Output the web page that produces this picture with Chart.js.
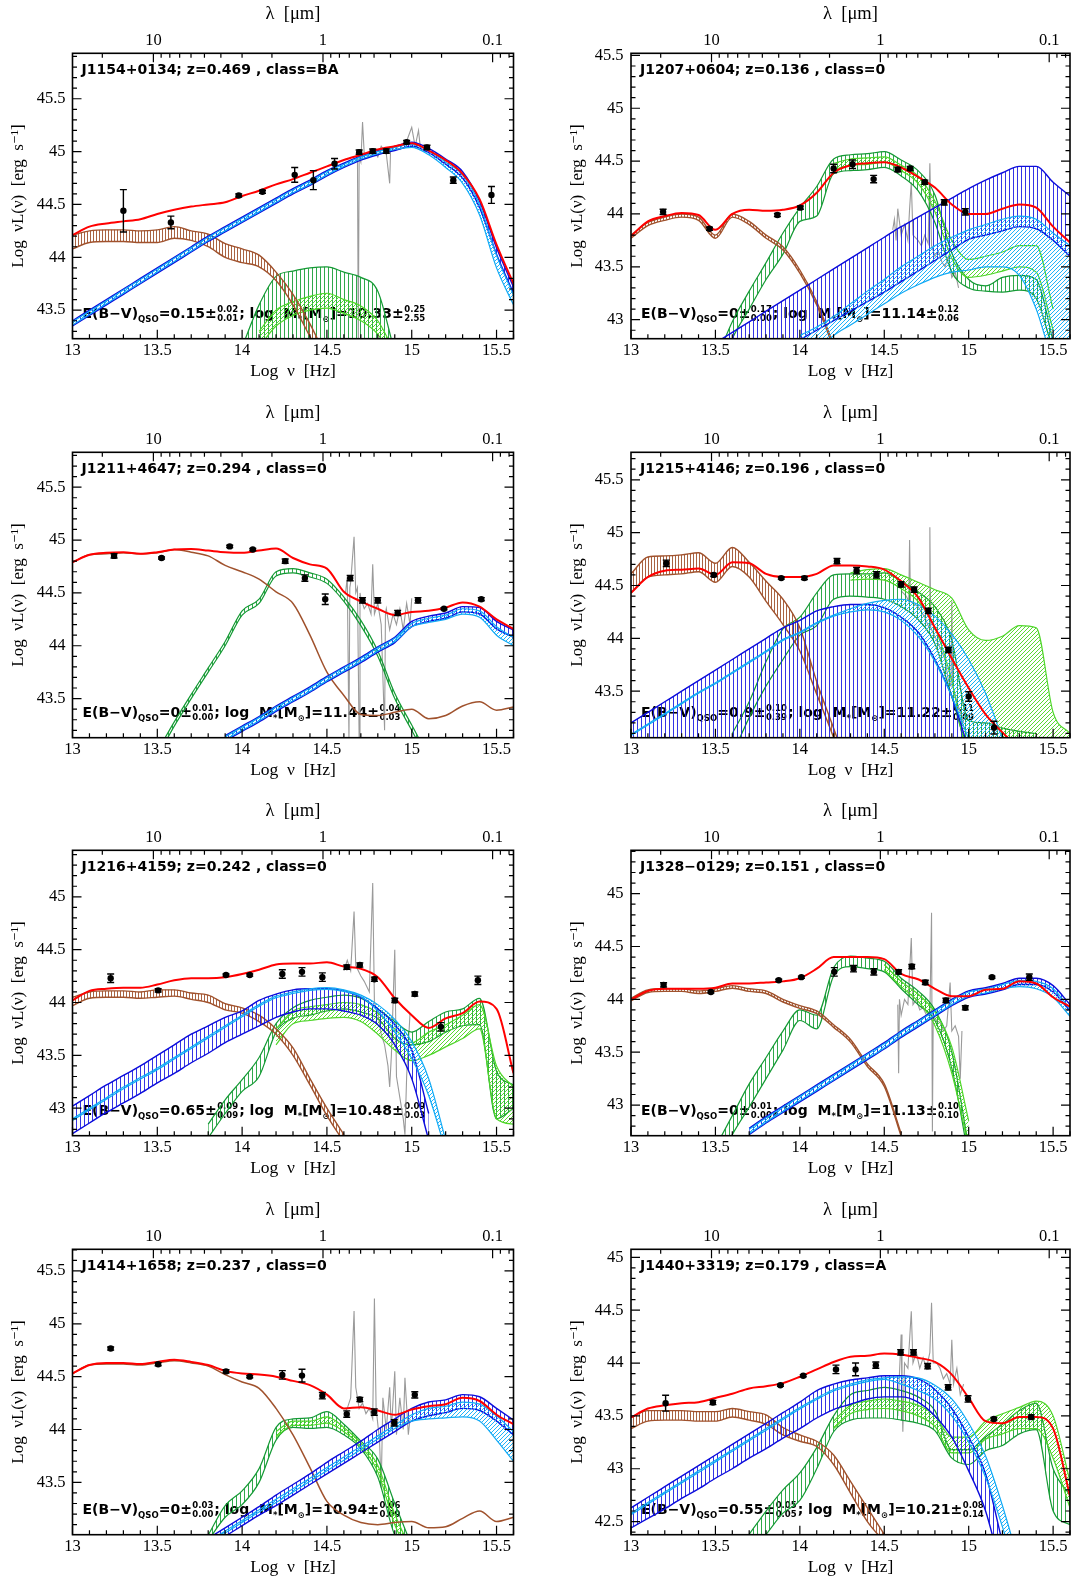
<!DOCTYPE html>
<html><head><meta charset="utf-8">
<script src="https://cdn.jsdelivr.net/npm/chart.js@4.4.1/dist/chart.umd.min.js"></script>
<style>
html,body{margin:0;padding:0;background:#fff;width:1074px;height:1578px;overflow:hidden;}
canvas{position:absolute;}
</style></head><body>
<script>
const _ = null;
// shared frequency grid (log nu [Hz]) for the model curves
const nu = [13.0,13.1,13.2,13.3,13.4,13.5,13.6,13.7,13.8,13.9,14.0,14.1,14.2,14.3,14.4,14.5,14.6,14.7,14.8,14.9,15.0,15.1,15.2,15.3,15.4,15.5,15.6];
const xTickVals = [13,13.5,14,14.5,15,15.5];
const xTickLabels = ['13','13.5','14','14.5','15','15.5'];
const lamTickVals = [10,1,0.1];
const lamTickLabels = ['10','1','0.1'];
const lamMinorVals = [30,20,9,8,7,6,5,4,3,2,0.9,0.8,0.7,0.6,0.5,0.4,0.3,0.2,0.09,0.08];
const C_UM = 2.998e14;

const objNames = ['J1154+0134; z=0.469 , class=BA','J1207+0604; z=0.136 , class=0','J1211+4647; z=0.294 , class=0','J1215+4146; z=0.196 , class=0','J1216+4159; z=0.242 , class=0','J1328\u22120129; z=0.151 , class=0','J1414+1658; z=0.237 , class=0','J1440+3319; z=0.179 , class=A'];
const ebvVal = ['0.15','0','0','0.9','0.65','0','0','0.55'];
const ebvUp  = ['0.02','0.17','0.01','0.10','0.09','0.01','0.03','0.05'];
const ebvDn  = ['0.01','0.00','0.00','0.39','0.09','0.00','0.00','0.05'];
const massVal = ['10.33','11.14','11.44','11.22','10.48','11.13','10.94','10.21'];
const massUp  = ['0.25','0.12','0.04','0.11','0.09','0.10','0.06','0.08'];
const massDn  = ['2.55','0.06','0.03','0.09','0.03','0.10','0.09','0.14'];

const yMin = [43.23,42.82,43.13,43.06,42.74,42.71,43.005,42.376];
const yMax = [45.93,45.52,45.83,45.76,45.44,45.41,45.705,45.076];
const yTicks1 = [43.5,44,44.5,45,45.5];
const yTicks2 = [43,43.5,44,44.5,45,45.5];
const yTicks3 = [43.5,44,44.5,45,45.5];
const yTicks4 = [43.5,44,44.5,45,45.5];
const yTicks5 = [43,43.5,44,44.5,45];
const yTicks6 = [43,43.5,44,44.5,45];
const yTicks7 = [43.5,44,44.5,45,45.5];
const yTicks8 = [42.5,43,43.5,44,44.5,45];

// ---------- Panel 1: J1154+0134 ----------
const p1Red   = [44.21,44.29,44.32,44.34,44.36,44.41,44.45,44.48,44.50,44.52, 44.58,44.63,44.69,44.74,44.80,44.86,44.92,44.97,45.02,45.05, 45.08,45.01,44.92,44.79,44.55,44.12,43.75];
const p1TorHi = [44.21,44.25,44.26,44.26,44.25,44.26,44.29,44.25,44.22,44.13, 44.08,44.02,43.86,43.65,43.37,43.05,42.80,_,_,_, _,_,_,_,_,_,_];
const p1TorLo = [44.08,44.14,44.15,44.15,44.14,44.14,44.18,44.16,44.10,44.00, 43.95,43.91,43.78,43.55,43.25,42.95,42.70,_,_,_, _,_,_,_,_,_,_];
const p1QsoHi = [43.40,43.50,43.60,43.70,43.80,43.90,44.00,44.10,44.20,44.29, 44.38,44.47,44.56,44.65,44.73,44.82,44.89,44.96,45.01,45.05, 45.09,45.03,44.93,44.81,44.53,44.09,43.72];
const p1QsoLo = [43.35,43.45,43.55,43.65,43.75,43.85,43.95,44.05,44.15,44.24, 44.33,44.42,44.51,44.60,44.68,44.77,44.85,44.92,44.97,45.01, 45.05,44.99,44.88,44.75,44.47,44.03,43.66];
const p1CyHi  = [43.39,43.49,43.59,43.69,43.79,43.89,43.99,44.09,44.19,44.28, 44.37,44.46,44.55,44.64,44.72,44.81,44.88,44.95,45.00,45.04, 45.07,45.01,44.90,44.78,44.50,44.02,43.64];
const p1CyLo  = [43.36,43.46,43.56,43.66,43.76,43.86,43.96,44.06,44.16,44.25, 44.34,44.43,44.52,44.61,44.69,44.78,44.86,44.93,44.98,45.02, 45.04,44.97,44.85,44.70,44.40,43.90,43.55];
const p1HostHi = [_,_,_,_,_,_,_,_,_,_, 43.15,43.55,43.82,43.87,43.90,43.91,43.86,43.81,43.68,43.10, _,_,_,_,_,_,_];
const p1HostLo = [_,_,_,_,_,_,_,_,_,_, 42.90,42.90,42.90,42.90,42.90,42.90,42.90,42.90,42.90,42.90, _,_,_,_,_,_,_];
const p1Host2Hi = [_,_,_,_,_,_,_,_,_,_, _,43.30,43.50,43.58,43.63,43.66,43.60,43.54,43.40,43.10, _,_,_,_,_,_,_];
const p1Host2Lo = [_,_,_,_,_,_,_,_,_,_, _,43.15,43.35,43.45,43.50,43.52,43.47,43.40,43.27,43.00, _,_,_,_,_,_,_];
const p1SpX = [14.68,14.685,14.69,14.70,14.71,14.72,14.75,14.78,14.80,14.82,14.85,14.87,14.875,14.90,14.93,14.95,14.97,15.00,15.02,15.04,15.05];
const p1SpY = [44.97,43.20,44.95,44.90,45.28,44.98,44.95,45.00,44.95,45.05,44.98,44.70,45.00,45.05,45.02,45.08,45.10,45.23,45.05,45.20,45.05];
const p1X = [13.30,13.58,13.98,14.12,14.31,14.42,14.545,14.69,14.77,14.85,14.97,15.09,15.245,15.47];
const p1Y = [44.44,44.33,44.585,44.62,44.78,44.73,44.885,44.995,45.005,45.005,45.09,45.04,44.73,44.59];
const p1E = [0.20,0.06,0.015,0.015,0.07,0.09,0.05,0.02,0.02,0.02,0.015,0.02,0.03,0.08];

// ---------- Panel 2: J1207+0604 ----------
const p2Red   = [43.79,43.93,43.98,44.01,43.99,43.85,44.00,44.04,44.03,44.04, 44.08,44.20,44.39,44.46,44.48,44.49,44.44,44.35,44.25,44.09, 44.00,44.00,44.05,44.09,44.06,43.88,43.73];
const p2TorHi = [43.80,43.92,43.97,44.00,43.97,43.80,44.00,43.93,43.80,43.69, 43.47,43.17,42.76,_,_,_,_,_,_,_, _,_,_,_,_,_,_];
const p2TorLo = [43.77,43.89,43.94,43.97,43.94,43.77,43.97,43.90,43.77,43.66, 43.44,43.14,42.73,_,_,_,_,_,_,_, _,_,_,_,_,_,_];
const p2QsoHi = [_,_,_,_,_,42.78,42.88,42.98,43.08,43.18, 43.28,43.38,43.48,43.58,43.68,43.78,43.88,43.97,44.06,44.15, 44.24,44.32,44.39,44.45,44.45,44.30,44.17];
const p2QsoLo = [_,_,_,_,_,42.35,42.45,42.55,42.64,42.72, 42.81,42.90,42.99,43.08,43.17,43.26,43.36,43.46,43.56,43.66, 43.76,43.80,43.84,43.88,43.86,43.75,43.60];
const p2CyHi  = [_,_,_,_,_,_,_,_,_,_, 42.85,42.93,43.03,43.15,43.27,43.38,43.50,43.60,43.70,43.78, 43.85,43.90,43.95,43.98,43.95,43.82,43.70];
const p2CyLo  = [_,_,_,_,_,_,_,_,_,_, 42.60,42.70,42.85,42.95,43.05,43.15,43.25,43.33,43.40,43.45, 43.47,43.50,43.50,43.42,43.10,42.60,42.30];
const p2HostHi = [_,_,_,_,_,42.60,42.98,43.27,43.54,43.82, 44.06,44.26,44.52,44.56,44.57,44.59,44.51,44.41,44.18,43.63, 43.38,43.32,43.40,43.42,43.38,42.80,_];
const p2HostLo = [_,_,_,_,_,42.40,42.82,43.10,43.38,43.62, 43.93,43.98,44.38,44.41,44.42,44.44,44.36,44.22,43.92,43.45, 43.30,43.27,43.26,43.28,43.20,42.70,_];
const p2Host2Hi = [_,_,_,_,_,_,_,_,_,_, _,_,44.48,44.52,44.53,44.54,44.46,44.36,44.12,43.75, 43.57,43.60,43.64,43.70,43.70,43.10,_];
const p2Host2Lo = [_,_,_,_,_,_,_,_,_,_, _,_,44.42,44.46,44.47,44.49,44.41,44.29,44.02,43.58, 43.40,43.42,43.46,43.50,43.45,42.90,_];
const p2SpX = [14.55,14.56,14.57,14.58,14.60,14.62,14.64,14.65,14.66,14.67,14.70,14.72,14.74,14.76,14.77,14.78,14.80,14.82,14.84,14.86,14.88,14.90,14.92,14.94];
const p2SpY = [43.85,43.95,43.75,44.05,43.80,43.90,43.75,44.05,44.30,43.80,43.75,43.70,43.80,43.72,44.48,43.70,43.60,43.65,43.55,43.50,43.60,43.40,43.45,43.30];
const p2X = [13.19,13.465,13.867,14.003,14.20,14.312,14.437,14.58,14.653,14.74,14.855,14.98];
const p2Y = [44.02,43.86,43.99,44.06,44.43,44.47,44.33,44.42,44.43,44.30,44.11,44.02];
const p2E = [0.025,0.015,0.015,0.015,0.04,0.04,0.035,0.02,0.02,0.02,0.025,0.03];

// ---------- Panel 3: J1211+4647 ----------
const p3Red   = [44.79,44.86,44.88,44.885,44.87,44.885,44.91,44.915,44.90,44.885, 44.88,44.90,44.92,44.83,44.77,44.73,44.51,44.42,44.35,44.29, 44.32,44.33,44.36,44.41,44.37,44.25,44.16];
const p3Tor   = [44.79,44.86,44.87,44.88,44.87,44.88,44.91,44.885,44.85,44.76, 44.70,44.63,44.51,44.40,44.10,43.75,43.53,43.35,43.34,43.37, 43.40,43.31,43.34,43.43,43.47,43.39,43.42];
const p3QsoHi = [_,_,_,_,_,_,_,_,_,43.15, 43.24,43.33,43.43,43.52,43.61,43.71,43.80,43.89,43.99,44.08, 44.23,44.28,44.31,44.37,44.36,44.23,44.15];
const p3QsoLo = [_,_,_,_,_,_,_,_,_,43.10, 43.19,43.28,43.38,43.47,43.56,43.66,43.75,43.84,43.94,44.03, 44.18,44.23,44.26,44.32,44.30,44.16,44.08];
const p3CyHi  = [_,_,_,_,_,_,_,_,_,43.14, 43.23,43.32,43.42,43.51,43.60,43.70,43.79,43.88,43.98,44.07, 44.21,44.26,44.29,44.35,44.33,44.18,44.08];
const p3CyLo  = [_,_,_,_,_,_,_,_,_,43.11, 43.20,43.29,43.39,43.48,43.57,43.67,43.76,43.85,43.95,44.04, 44.18,44.22,44.25,44.30,44.27,44.10,44.00];
const p3HostHi = [_,_,_,_,_,43.00,43.28,43.54,43.79,44.04, 44.33,44.44,44.70,44.73,44.69,44.63,44.46,44.24,43.95,43.55, 43.25,42.95,_,_,_,_,_];
const p3HostLo = [_,_,_,_,_,42.95,43.24,43.50,43.75,44.00, 44.29,44.40,44.66,44.69,44.65,44.59,44.42,44.19,43.90,43.50, 43.20,42.90,_,_,_,_,_];
const p3SpX = [14.61,14.62,14.63,14.635,14.64,14.66,14.67,14.68,14.69,14.695,14.70,14.72,14.74,14.76,14.77,14.78,14.80,14.82,14.84,14.845,14.85,14.87,14.89,14.91,14.93,14.95,14.97,14.99,15.00];
const p3SpY = [44.50,44.65,43.10,44.55,44.60,45.03,44.50,44.55,43.10,44.50,44.45,44.35,44.40,44.30,44.77,44.30,44.40,44.20,43.20,44.30,44.35,44.15,44.30,44.20,44.35,44.15,44.40,44.20,44.45];
const p3X = [13.245,13.525,13.927,14.063,14.254,14.37,14.49,14.637,14.71,14.80,14.917,15.037,15.19,15.41];
const p3Y = [44.85,44.83,44.94,44.91,44.80,44.64,44.44,44.64,44.43,44.43,44.31,44.43,44.35,44.44];
const p3E = [0.02,0.01,0.01,0.01,0.02,0.03,0.05,0.025,0.025,0.025,0.025,0.025,0.01,0.015];

// ---------- Panel 4: J1215+4146 ----------
const p4Red   = [44.43,44.58,44.64,44.65,44.66,44.60,44.72,44.71,44.61,44.58, 44.58,44.61,44.69,44.69,44.68,44.65,44.54,44.39,44.10,43.81, 43.53,43.28,43.11,42.95,_,_,_];
const p4TorHi = [44.61,44.77,44.78,44.79,44.81,44.71,44.86,44.72,44.54,44.37, 44.10,43.59,43.15,42.70,_,_,_,_,_,_, _,_,_,_,_,_,_];
const p4TorLo = [44.43,44.58,44.60,44.61,44.63,44.53,44.68,44.58,44.35,44.13, 43.88,43.47,43.06,42.60,_,_,_,_,_,_, _,_,_,_,_,_,_];
const p4QsoHi = [43.20,43.30,43.40,43.50,43.60,43.70,43.80,43.90,44.00,44.10, 44.17,44.26,44.30,44.32,44.32,44.29,44.20,44.06,43.80,43.45, 42.95,_,_,_,_,_,_];
const p4QsoLo = [42.90,42.90,42.90,42.90,42.90,42.90,42.90,42.90,42.90,42.90, 42.90,42.90,42.90,42.90,42.90,42.90,42.90,42.90,42.90,42.90, 42.90,_,_,_,_,_,_];
const p4CyHi  = [43.09,43.19,43.29,43.39,43.49,43.58,43.68,43.78,43.88,43.99, 44.06,44.15,44.22,44.28,44.33,44.36,44.37,44.32,44.21,44.04, 43.80,43.48,43.05,_,_,_,_];
const p4CyLo  = [43.08,43.18,43.28,43.38,43.48,43.57,43.67,43.77,43.87,43.98, 44.05,44.14,44.21,44.25,44.27,44.25,44.17,44.02,43.78,43.45, 43.05,42.70,42.50,_,_,_,_];
const p4HostHi = [_,_,_,_,_,_,43.10,43.40,43.78,44.09, 44.20,44.43,44.60,44.61,44.61,44.62,44.54,44.44,44.30,43.98, 43.22,43.20,43.15,43.12,43.10,_,_];
const p4HostLo = [_,_,_,_,_,_,42.90,43.25,43.55,43.80, 44.03,44.12,44.37,44.40,44.39,44.37,44.30,44.18,43.95,43.45, 43.00,43.00,43.00,43.00,43.00,_,_];
const p4Host2Hi = [_,_,_,_,_,_,_,_,_,_, _,_,_,44.62,44.65,44.66,44.60,44.53,44.46,44.38, 44.08,43.98,44.02,44.12,44.10,43.30,43.10];
const p4Host2Lo = [_,_,_,_,_,_,_,_,_,_, _,_,_,44.55,44.56,44.55,44.47,44.35,44.10,43.60, 42.90,42.90,42.90,42.90,42.90,42.90,42.90];
const p4SpX = [14.60,14.63,14.645,14.65,14.655,14.70,14.74,14.765,14.77,14.775,14.82,14.86,14.88,14.895,14.90,14.905,14.93,14.95,14.97];
const p4SpY = [44.45,44.40,44.35,44.93,44.35,44.30,44.20,44.10,45.05,44.10,43.95,43.80,43.60,43.55,44.35,43.55,43.40,43.30,43.20];
const p4X = [13.209,13.49,13.89,14.027,14.22,14.336,14.454,14.60,14.677,14.761,14.88,15.0,15.15];
const p4Y = [44.71,44.60,44.57,44.57,44.73,44.64,44.60,44.51,44.46,44.26,43.89,43.45,43.155];
const p4E = [0.03,0.015,0.01,0.015,0.025,0.03,0.03,0.025,0.025,0.025,0.025,0.045,0.06];

// ---------- Panel 5: J1216+4159 ----------
const p5Red   = [44.02,44.11,44.13,44.14,44.14,44.17,44.21,44.23,44.23,44.24, 44.27,44.31,44.36,44.37,44.37,44.38,44.34,44.32,44.24,44.04, 43.88,43.76,43.85,43.90,44.01,43.94,43.33];
const p5TorHi = [44.05,44.10,44.11,44.11,44.10,44.12,44.12,44.09,44.07,43.99, 43.95,43.88,43.75,43.57,43.28,43.00,42.75,_,_,_, _,_,_,_,_,_,_];
const p5TorLo = [43.97,44.04,44.05,44.05,44.04,44.05,44.06,44.03,44.00,43.93, 43.90,43.82,43.70,43.50,43.22,42.93,42.68,_,_,_, _,_,_,_,_,_,_];
const p5QsoHi = [43.02,43.12,43.22,43.31,43.40,43.50,43.60,43.70,43.78,43.86, 43.92,44.02,44.08,44.12,44.13,44.13,44.11,44.05,43.94,43.79, 43.55,42.95,_,_,_,_,_];
const p5QsoLo = [42.76,42.86,42.96,43.05,43.14,43.24,43.33,43.43,43.52,43.62, 43.70,43.78,43.86,43.91,43.94,43.94,43.92,43.88,43.79,43.60, 43.28,42.70,_,_,_,_,_];
const p5CyHi  = [42.90,43.00,43.10,43.20,43.29,43.38,43.48,43.58,43.68,43.78, 43.88,43.98,44.06,44.10,44.13,44.14,44.12,44.07,43.98,43.84, 43.63,43.28,42.70,_,_,_,_];
const p5CyLo  = [42.885,42.985,43.085,43.185,43.275,43.365,43.465,43.565,43.665,43.765, 43.865,43.965,44.045,44.085,44.115,44.125,44.105,44.055,43.92,43.72, 43.47,43.12,42.60,_,_,_,_];
const p5HostHi = [_,_,_,_,_,_,_,_,42.85,43.08, 43.27,43.48,43.80,43.95,44.02,44.05,44.07,44.04,43.94,43.82, 43.72,43.82,43.91,43.94,44.04,43.35,43.22];
const p5HostLo = [_,_,_,_,_,_,_,_,42.72,42.95, 43.16,43.30,43.72,43.85,43.88,43.92,43.94,43.91,43.85,43.66, 43.60,43.63,43.72,43.78,43.79,42.90,43.00];
const p5Host2Hi = [_,_,_,_,_,_,_,_,_,_, _,_,43.75,43.92,43.96,43.98,44.00,43.98,43.90,43.75, 43.62,43.72,43.79,43.88,43.98,43.40,43.20];
const p5Host2Lo = [_,_,_,_,_,_,_,_,_,_, _,_,43.60,43.80,43.83,43.85,43.86,43.82,43.70,43.55, 43.45,43.50,43.58,43.66,43.75,42.90,42.85];
const p5SpX = [14.60,14.62,14.64,14.66,14.67,14.70,14.72,14.75,14.77,14.78,14.80,14.82,14.84,14.86,14.87,14.88,14.90,14.91,14.93,14.95,14.96,14.97,14.98,14.99];
const p5SpY = [44.30,44.40,44.30,44.86,44.35,44.25,44.20,44.10,45.13,44.00,43.90,43.70,43.60,43.40,43.20,43.50,44.50,43.30,43.10,42.90,42.75,43.30,43.60,43.90];
const p5X = [13.225,13.505,13.905,14.045,14.237,14.353,14.473,14.617,14.694,14.78,14.90,15.018,15.172,15.39];
const p5Y = [44.23,44.115,44.26,44.26,44.27,44.29,44.24,44.335,44.355,44.22,44.02,44.08,43.77,44.21];
const p5E = [0.04,0.015,0.01,0.01,0.04,0.04,0.04,0.02,0.02,0.02,0.02,0.02,0.04,0.04];

// ---------- Panel 6: J1328-0129 ----------
const p6Red   = [44.00,44.08,44.10,44.10,44.10,44.11,44.15,44.15,44.16,44.17, 44.20,44.29,44.40,44.40,44.40,44.38,44.24,44.19,44.10,44.03, 44.03,44.09,44.10,44.17,44.15,44.02,43.93];
const p6TorHi = [44.01,44.09,44.10,44.10,44.08,44.10,44.13,44.10,44.08,44.00, 43.94,43.89,43.76,43.62,43.39,43.20,42.73,_,_,_, _,_,_,_,_,_,_];
const p6TorLo = [43.985,44.065,44.075,44.075,44.055,44.075,44.105,44.075,44.055,43.975, 43.915,43.865,43.735,43.595,43.365,43.175,42.705,_,_,_, _,_,_,_,_,_,_];
const p6QsoHi = [_,_,_,_,_,_,_,42.78,42.89,42.99, 43.09,43.19,43.29,43.39,43.49,43.59,43.70,43.80,43.90,44.00, 44.08,44.11,44.15,44.20,44.20,44.13,43.95];
const p6QsoLo = [_,_,_,_,_,_,_,42.72,42.83,42.93, 43.03,43.13,43.23,43.33,43.43,43.53,43.64,43.74,43.84,43.94, 44.02,44.05,44.09,44.14,44.14,44.07,43.89];
const p6CyHi  = [_,_,_,_,_,_,_,42.77,42.88,42.98, 43.08,43.18,43.28,43.38,43.48,43.58,43.69,43.79,43.89,43.99, 44.07,44.10,44.14,44.18,44.17,44.10,43.91];
const p6CyLo  = [_,_,_,_,_,_,_,42.73,42.84,42.94, 43.04,43.14,43.24,43.34,43.44,43.54,43.65,43.75,43.85,43.95, 44.03,44.06,44.10,44.12,44.10,44.02,43.84];
const p6HostHi = [_,_,_,_,_,42.60,42.90,43.20,43.45,43.70, 43.90,43.85,44.30,44.41,44.39,44.36,44.20,44.08,43.90,43.50, 42.60,_,_,_,_,_,_];
const p6HostLo = [_,_,_,_,_,42.40,42.72,42.98,43.25,43.52, 43.80,43.72,44.22,44.31,44.29,44.26,44.10,43.95,43.80,43.35, 42.50,_,_,_,_,_,_];
const p6Host2Hi = [_,_,_,_,_,_,_,_,_,_, _,_,_,_,_,44.33,44.17,44.05,43.88,43.55, 42.85,_,_,_,_,_,_];
const p6Host2Lo = [_,_,_,_,_,_,_,_,_,_, _,_,_,_,_,44.28,44.12,43.98,43.75,43.30, 42.60,_,_,_,_,_,_];
const p6SpX = [14.58,14.585,14.59,14.60,14.62,14.64,14.66,14.67,14.69,14.71,14.73,14.75,14.77,14.78,14.785,14.79,14.81,14.83,14.85,14.87,14.89,14.90,14.92,14.94,14.95,14.96];
const p6SpY = [43.95,43.30,44.00,43.85,44.00,43.95,44.58,43.95,44.00,43.90,43.92,43.85,43.85,44.82,42.75,43.85,43.80,43.78,43.70,43.75,44.16,43.70,43.75,43.65,43.25,43.70];
const p6X = [13.193,13.473,13.875,14.009,14.204,14.318,14.438,14.585,14.663,14.743,14.865,14.98,15.138,15.359];
const p6Y = [44.137,44.07,44.18,44.21,44.26,44.29,44.26,44.26,44.31,44.16,43.99,43.92,44.21,44.21];
const p6E = [0.02,0.01,0.01,0.01,0.04,0.03,0.03,0.02,0.02,0.02,0.02,0.02,0.01,0.03];

// ---------- Panel 7: J1414+1658 ----------
const p7Red   = [44.53,44.61,44.63,44.63,44.62,44.64,44.66,44.64,44.61,44.555, 44.53,44.52,44.50,44.46,44.42,44.33,44.20,44.21,44.18,44.14, 44.19,44.22,44.24,44.30,44.27,44.14,44.05];
const p7Tor   = [44.53,44.61,44.62,44.62,44.61,44.63,44.65,44.63,44.60,44.52, 44.45,44.39,44.20,43.95,43.64,43.32,43.19,43.12,43.10,43.12, 43.13,43.07,43.08,43.16,43.23,43.13,43.17];
const p7QsoHi = [_,_,_,_,_,_,_,_,42.97,43.07, 43.17,43.27,43.38,43.48,43.58,43.69,43.79,43.89,44.00,44.10, 44.20,44.26,44.28,44.33,44.31,44.20,44.09];
const p7QsoLo = [_,_,_,_,_,_,_,_,42.89,42.99, 43.09,43.19,43.28,43.38,43.48,43.58,43.68,43.78,43.88,43.98, 44.08,44.13,44.16,44.20,44.18,44.08,43.95];
const p7CyHi  = [_,_,_,_,_,_,_,_,42.94,43.04, 43.14,43.24,43.34,43.44,43.54,43.64,43.74,43.84,43.94,44.04, 44.14,44.20,44.22,44.26,44.24,44.13,43.98];
const p7CyLo  = [_,_,_,_,_,_,_,_,42.92,43.02, 43.12,43.22,43.31,43.41,43.51,43.61,43.71,43.81,43.91,44.01, 44.08,44.10,44.11,44.12,44.08,43.90,43.70];
const p7HostHi = [_,_,_,_,_,_,_,_,43.00,43.28, 43.42,43.63,44.02,44.10,44.11,44.17,44.05,43.89,43.72,43.30, 42.90,_,_,_,_,_,_];
const p7HostLo = [_,_,_,_,_,_,_,_,42.95,43.17, 43.29,43.50,43.90,44.02,44.01,44.02,43.95,43.82,43.55,43.00, 42.80,_,_,_,_,_,_];
const p7Host2Hi = [_,_,_,_,_,_,_,_,_,_, _,_,43.98,44.08,44.08,44.12,44.02,43.87,43.66,43.20, 42.85,_,_,_,_,_,_];
const p7Host2Lo = [_,_,_,_,_,_,_,_,_,_, _,_,43.93,44.04,44.04,44.06,43.98,43.84,43.60,43.10, 42.80,_,_,_,_,_,_];
const p7SpX = [14.60,14.62,14.64,14.66,14.67,14.69,14.71,14.73,14.75,14.77,14.78,14.79,14.81,14.82,14.83,14.85,14.87,14.88,14.90,14.91,14.93,14.95,14.96,14.98,14.99];
const p7SpY = [44.15,44.20,44.30,45.12,44.40,44.20,44.25,44.15,44.20,44.10,45.24,44.20,43.90,43.45,44.30,44.00,44.40,44.00,44.55,43.95,44.30,44.00,44.49,43.95,44.10];
const p7X = [13.225,13.505,13.905,14.045,14.237,14.353,14.473,14.617,14.694,14.779,14.897,15.018];
const p7Y = [44.766,44.618,44.55,44.50,44.517,44.51,44.32,44.146,44.284,44.165,44.064,44.328];
const p7E = [0.015,0.015,0.015,0.01,0.04,0.06,0.03,0.03,0.02,0.03,0.03,0.03];

// ---------- Panel 8: J1440+3319 ----------
const p8Red   = [43.485,43.57,43.60,43.62,43.63,43.67,43.71,43.76,43.78,43.81, 43.87,43.94,44.01,44.06,44.07,44.09,44.08,44.05,44.01,43.89, 43.67,43.45,43.43,43.49,43.49,43.38,42.74];
const p8TorHi = [43.485,43.55,43.55,43.55,43.54,43.54,43.57,43.54,43.51,43.39, 43.32,43.26,43.13,42.88,42.63,42.38,_,_,_,_, _,_,_,_,_,_,_];
const p8TorLo = [43.38,43.45,43.46,43.46,43.45,43.45,43.49,43.46,43.42,43.32, 43.26,43.21,43.04,42.77,42.50,42.31,_,_,_,_, _,_,_,_,_,_,_];
const p8QsoHi = [42.63,42.73,42.83,42.93,43.03,43.13,43.23,43.33,43.43,43.53, 43.63,43.74,43.80,43.84,43.86,43.88,43.88,43.85,43.75,43.57, 43.30,42.95,42.30,_,_,_,_];
const p8QsoLo = [42.44,42.53,42.62,42.72,42.81,42.91,43.00,43.10,43.19,43.29, 43.38,43.48,43.56,43.61,43.66,43.68,43.68,43.63,43.50,43.30, 42.98,42.60,42.00,_,_,_,_];
const p8CyHi  = [42.58,42.68,42.78,42.88,42.98,43.08,43.18,43.28,43.38,43.48, 43.58,43.67,43.75,43.80,43.84,43.86,43.87,43.86,43.79,43.66, 43.43,43.12,42.65,42.10,_,_,_];
const p8CyLo  = [42.565,42.665,42.765,42.865,42.965,43.065,43.165,43.265,43.365,43.465, 43.565,43.655,43.735,43.785,43.825,43.845,43.80,43.74,43.66,43.50, 43.25,42.92,42.45,41.90,_,_,_];
const p8HostHi = [_,_,_,_,_,_,_,42.38,42.60,42.80, 42.96,43.20,43.50,43.70,43.74,43.77,43.74,43.68,43.55,43.18, 43.18,43.30,43.42,43.55,43.62,43.00,42.75];
const p8HostLo = [_,_,_,_,_,_,_,42.20,42.38,42.58, 42.70,43.00,43.35,43.46,43.48,43.48,43.46,43.43,43.36,43.10, 43.04,43.17,43.22,43.33,43.37,42.60,42.47];
const p8Host2Hi = [_,_,_,_,_,_,_,_,_,_, _,_,43.45,43.60,43.64,43.66,43.64,43.60,43.50,43.30, 43.30,43.45,43.52,43.58,43.64,43.50,42.88];
const p8Host2Lo = [_,_,_,_,_,_,_,_,_,_, _,_,43.38,43.52,43.56,43.57,43.55,43.50,43.40,43.15, 43.15,43.28,43.33,43.38,43.38,43.10,42.63];
const p8SpX = [14.58,14.59,14.60,14.605,14.61,14.62,14.64,14.66,14.67,14.69,14.71,14.73,14.75,14.77,14.78,14.79,14.81,14.83,14.85,14.87,14.89,14.90,14.91,14.93,14.95,14.97];
const p8SpY = [43.50,43.90,44.27,43.70,43.35,44.00,43.95,44.49,44.00,44.10,43.95,44.05,43.95,44.10,44.57,44.00,44.00,43.95,43.85,43.90,43.80,44.22,43.80,43.95,43.70,43.80];
const p8X = [13.205,13.485,13.885,14.02,14.214,14.33,14.45,14.597,14.673,14.757,14.878,14.996,15.149,15.37];
const p8Y = [43.62,43.627,43.79,43.88,43.94,43.94,43.98,44.10,44.10,43.97,43.77,43.66,43.47,43.49];
const p8E = [0.075,0.02,0.01,0.01,0.04,0.06,0.03,0.025,0.025,0.025,0.025,0.03,0.015,0.02];

// ---------- panel table built from the arrays ----------
const PANELS = [
  {red:p1Red, torHi:p1TorHi, torLo:p1TorLo, qHi:p1QsoHi, qLo:p1QsoLo, cHi:p1CyHi, cLo:p1CyLo, hHi:p1HostHi, hLo:p1HostLo, h2Hi:p1Host2Hi, h2Lo:p1Host2Lo, spX:p1SpX, spY:p1SpY, px:p1X, py:p1Y, pe:p1E, yt:yTicks1},
  {red:p2Red, torHi:p2TorHi, torLo:p2TorLo, qHi:p2QsoHi, qLo:p2QsoLo, cHi:p2CyHi, cLo:p2CyLo, hHi:p2HostHi, hLo:p2HostLo, h2Hi:p2Host2Hi, h2Lo:p2Host2Lo, spX:p2SpX, spY:p2SpY, px:p2X, py:p2Y, pe:p2E, yt:yTicks2},
  {red:p3Red, torHi:p3Tor, torLo:null, qHi:p3QsoHi, qLo:p3QsoLo, cHi:p3CyHi, cLo:p3CyLo, hHi:p3HostHi, hLo:p3HostLo, h2Hi:null, h2Lo:null, spX:p3SpX, spY:p3SpY, px:p3X, py:p3Y, pe:p3E, yt:yTicks3},
  {red:p4Red, torHi:p4TorHi, torLo:p4TorLo, qHi:p4QsoHi, qLo:p4QsoLo, cHi:p4CyHi, cLo:p4CyLo, hHi:p4HostHi, hLo:p4HostLo, h2Hi:p4Host2Hi, h2Lo:p4Host2Lo, spX:p4SpX, spY:p4SpY, px:p4X, py:p4Y, pe:p4E, yt:yTicks4},
  {red:p5Red, torHi:p5TorHi, torLo:p5TorLo, qHi:p5QsoHi, qLo:p5QsoLo, cHi:p5CyHi, cLo:p5CyLo, hHi:p5HostHi, hLo:p5HostLo, h2Hi:p5Host2Hi, h2Lo:p5Host2Lo, spX:p5SpX, spY:p5SpY, px:p5X, py:p5Y, pe:p5E, yt:yTicks5},
  {red:p6Red, torHi:p6TorHi, torLo:p6TorLo, qHi:p6QsoHi, qLo:p6QsoLo, cHi:p6CyHi, cLo:p6CyLo, hHi:p6HostHi, hLo:p6HostLo, h2Hi:p6Host2Hi, h2Lo:p6Host2Lo, spX:p6SpX, spY:p6SpY, px:p6X, py:p6Y, pe:p6E, yt:yTicks6},
  {red:p7Red, torHi:p7Tor, torLo:null, qHi:p7QsoHi, qLo:p7QsoLo, cHi:p7CyHi, cLo:p7CyLo, hHi:p7HostHi, hLo:p7HostLo, h2Hi:p7Host2Hi, h2Lo:p7Host2Lo, spX:p7SpX, spY:p7SpY, px:p7X, py:p7Y, pe:p7E, yt:yTicks7},
  {red:p8Red, torHi:p8TorHi, torLo:p8TorLo, qHi:p8QsoHi, qLo:p8QsoLo, cHi:p8CyHi, cLo:p8CyLo, hHi:p8HostHi, hLo:p8HostLo, h2Hi:p8Host2Hi, h2Lo:p8Host2Lo, spX:p8SpX, spY:p8SpY, px:p8X, py:p8Y, pe:p8E, yt:yTicks8}
];

// ---------- layout ----------
const W = 537, H = 382, CH_TOP = 53.3, CH_BOTTOM = 338.7;
const COLS = [
  {left:0,   chartLeft:72.5, chartRight:513.5, ytPad:7, titlePad:8.8},
  {left:537, chartLeft:94,   chartRight:534,   ytPad:7.5, titlePad:30.3}
];
const ROW_TOPS = [0, 398.5, 797, 1195.7];
const SERIF = '"Liberation Serif", "DejaVu Serif", serif';
const SANS = '"DejaVu Sans", sans-serif';
const TICK_FONT = {family:SERIF, size:16.5};

Chart.defaults.font.family = SERIF;
Chart.defaults.color = '#000';

function hatchV(color, gap) {
  const c = document.createElement('canvas'); c.width = gap; c.height = 4;
  const g = c.getContext('2d'); g.fillStyle = color; g.fillRect(0, 0, 1, 4);
  return g.createPattern(c, 'repeat');
}
function hatchD(color, gap) {
  const c = document.createElement('canvas'); c.width = gap; c.height = gap;
  const g = c.getContext('2d'); g.fillStyle = color;
  for (let i = 0; i < gap; i++) g.fillRect(i, gap - 1 - i, 1, 1);
  return g.createPattern(c, 'repeat');
}
const PAT_BROWN = hatchV('rgba(160,82,45,0.9)', 3);
const PAT_BLUE = hatchV('rgba(30,30,225,0.9)', 4);
const PAT_CYAN = hatchD('rgba(20,175,250,0.95)', 4);
const PAT_DKGREEN = hatchV('rgba(25,160,55,0.9)', 4);
const PAT_LTGREEN = hatchD('rgba(80,215,40,0.95)', 4);

function xy(arr) { return arr.map((v, i) => ({x: nu[i], y: v})); }
function lineDs(data, color, width, order, extra) {
  return Object.assign({type:'line', data, borderColor:color, borderWidth:width, pointRadius:0,
    fill:false, order, xAxisID:'x', yAxisID:'y', cubicInterpolationMode:'monotone', spanGaps:false}, extra || {});
}
function addBand(ds, hi, lo, color, pat, order, width) {
  ds.push(lineDs(xy(lo), color, width, order));
  ds.push(lineDs(xy(hi), color, width, order, {fill:'-1', backgroundColor:pat}));
}

function framePlugin() {
  return { id:'frameTicks', afterDraw(chart) {
    const {ctx, chartArea: ca} = chart; const xs = chart.scales.x, ys = chart.scales.y;
    ctx.save(); ctx.strokeStyle = '#000'; ctx.lineWidth = 1.2; ctx.beginPath();
    for (let k = 130; k <= 156; k++) {
      const px = xs.getPixelForValue(k / 10); const L = (k % 5 === 0) ? 9 : 4.5;
      ctx.moveTo(px, ca.bottom); ctx.lineTo(px, ca.bottom - L);
    }
    const addTop = (lam, L) => {
      const v = Math.log10(C_UM / lam); if (v < xs.min - 1e-6 || v > xs.max) return;
      const px = xs.getPixelForValue(v); ctx.moveTo(px, ca.top); ctx.lineTo(px, ca.top + L);
    };
    lamTickVals.forEach(l => addTop(l, 9)); lamMinorVals.forEach(l => addTop(l, 4.5));
    const k0 = Math.ceil(ys.min * 10 - 1e-6), k1 = Math.floor(ys.max * 10 + 1e-6);
    for (let k = k0; k <= k1; k++) {
      const py = ys.getPixelForValue(k / 10); const L = (k % 5 === 0) ? 9 : 4.5;
      ctx.moveTo(ca.left, py); ctx.lineTo(ca.left + L, py);
      ctx.moveTo(ca.right, py); ctx.lineTo(ca.right - L, py);
    }
    ctx.stroke();
    ctx.lineWidth = 1.6; ctx.strokeRect(ca.left, ca.top, ca.right - ca.left, ca.bottom - ca.top);
    ctx.restore();
  }};
}
function errPlugin(xs, ys, es) {
  return { id:'errbars', afterDatasetsDraw(chart) {
    const {ctx} = chart; const sx = chart.scales.x, sy = chart.scales.y;
    ctx.save(); ctx.strokeStyle = '#000'; ctx.lineWidth = 1.4; ctx.beginPath();
    xs.forEach((xv, i) => {
      const px = sx.getPixelForValue(xv);
      const y1 = sy.getPixelForValue(ys[i] - es[i]), y2 = sy.getPixelForValue(ys[i] + es[i]);
      ctx.moveTo(px, y1); ctx.lineTo(px, y2);
      ctx.moveTo(px - 3.5, y1); ctx.lineTo(px + 3.5, y1);
      ctx.moveTo(px - 3.5, y2); ctx.lineTo(px + 3.5, y2);
    });
    ctx.stroke(); ctx.restore();
  }};
}
function textPlugin(k) {
  return { id:'sedText', beforeDatasetsDraw(chart) {
    const ctx = chart.ctx, ca = chart.chartArea;
    const big = 'bold 14px ' + SANS, small = 'bold 8.5px ' + SANS;
    ctx.save(); ctx.fillStyle = '#000'; ctx.textAlign = 'left'; ctx.textBaseline = 'alphabetic';
    ctx.font = big; ctx.fillText(objNames[k], ca.left + 9, ca.top + 20.5);
    let x = ca.left + 10; const y = ca.bottom - 21;
    const put = (t, f, dy) => { ctx.font = f; ctx.fillText(t, x, y + dy); x += ctx.measureText(t).width; };
    const pm = (a, b) => { ctx.font = small; const w = Math.max(ctx.measureText(a).width, ctx.measureText(b).width);
      ctx.fillText(a, x + 0.5, y - 6); ctx.fillText(b, x + 0.5, y + 3); x += w + 1.5; };
    put('E(B\u2212V)', big, 0); put('QSO', small, 4); put('=' + ebvVal[k] + '\u00b1', big, 0); pm(ebvUp[k], ebvDn[k]);
    put('; log  M', big, 0); put('*', small, 4); put('[M', big, 0); put('\u2299', small, 4);
    put(']=' + massVal[k] + '\u00b1', big, 0); pm(massUp[k], massDn[k]);
    ctx.restore();
  }};
}

function makePanel(k) {
  const P = PANELS[k];
  const C = COLS[k % 2]; const top = ROW_TOPS[Math.floor(k / 2)];
  const cv = document.createElement('canvas');
  cv.width = W; cv.height = H;
  cv.style.left = C.left + 'px'; cv.style.top = top + 'px';
  cv.style.width = W + 'px'; cv.style.height = H + 'px';
  document.body.appendChild(cv);

  const ds = [];
  ds.push({type:'line', data: P.px.map((x, i) => ({x, y: P.py[i]})), showLine:false, pointRadius:3.2,
    pointBackgroundColor:'#000', pointBorderColor:'#000', pointBorderWidth:0, borderWidth:0, fill:false, order:1, xAxisID:'x', yAxisID:'y'});
  ds.push(lineDs(xy(P.red), '#ff0000', 2, 2));
  addBand(ds, P.cHi, P.cLo, '#12aaf5', PAT_CYAN, 4, 1.2);
  addBand(ds, P.qHi, P.qLo, '#0c0cdc', PAT_BLUE, 5, 1.4);
  if (P.torLo) addBand(ds, P.torHi, P.torLo, '#a0522d', PAT_BROWN, 6, 1.4);
  else ds.push(lineDs(xy(P.torHi), '#a0522d', 1.5, 6));
  if (P.h2Hi) addBand(ds, P.h2Hi, P.h2Lo, '#4fd62a', PAT_LTGREEN, 7, 1.2);
  addBand(ds, P.hHi, P.hLo, '#159a35', PAT_DKGREEN, 8, 1.2);
  ds.push(lineDs(P.spX.map((x, i) => ({x, y: P.spY[i]})), '#9a9a9a', 1.1, 9, {cubicInterpolationMode:'default', tension:0}));

  const yt = P.yt;
  new Chart(cv, {
    type:'line',
    data:{datasets: ds},
    options:{
      responsive:false, animation:false, devicePixelRatio:1, events:[],
      layout:{padding:{left:0, right:W - C.chartRight, top:0, bottom:0}},
      plugins:{legend:{display:false}, tooltip:{enabled:false}, title:{display:false}},
      scales:{
        x:{type:'linear', position:'bottom', min:13, max:15.6,
          grid:{display:false, drawTicks:false}, border:{display:false},
          afterBuildTicks: s => { s.ticks = xTickVals.map(v => ({value:v})); },
          ticks:{autoSkip:false, maxRotation:0, padding:2, color:'#000', font:TICK_FONT,
            callback:(v, i) => xTickLabels[i]},
          title:{display:true, text:'Log  \u03bd  [Hz]', color:'#000', font:{family:SERIF, size:17.5}, padding:{top:0, bottom:0}},
          afterFit: s => { s.height = H - CH_BOTTOM; }
        },
        xTop:{type:'linear', position:'top', min:13, max:15.6,
          grid:{display:false, drawTicks:false}, border:{display:false},
          afterBuildTicks: s => { s.ticks = lamTickVals.map(l => ({value: Math.log10(C_UM / l)})); },
          ticks:{autoSkip:false, maxRotation:0, padding:2.4, color:'#000', font:TICK_FONT,
            callback:(v, i) => lamTickLabels[i]},
          title:{display:true, text:'\u03bb  [\u03bcm]', color:'#000', font:{family:SERIF, size:18.5}, padding:{top:3.4, bottom:0}},
          afterFit: s => { s.height = CH_TOP; }
        },
        y:{type:'linear', position:'left', min:yMin[k], max:yMax[k],
          grid:{display:false, drawTicks:false}, border:{display:false},
          afterBuildTicks: s => { s.ticks = yt.map(v => ({value:v})); },
          ticks:{autoSkip:false, padding:C.ytPad, color:'#000', font:TICK_FONT,
            callback:(v, i) => String(yt[i])},
          title:{display:true, text:'Log  \u03bdL(\u03bd)  [erg  s\u207b\u00b9]', color:'#000', font:{family:SERIF, size:17}, padding:{top:C.titlePad, bottom:0}},
          afterFit: s => { s.width = C.chartLeft; }
        }
      }
    },
    plugins:[textPlugin(k), errPlugin(P.px, P.py, P.pe), framePlugin()]
  });
}
for (let k = 0; k < 8; k++) makePanel(k);
</script>
</body></html>
